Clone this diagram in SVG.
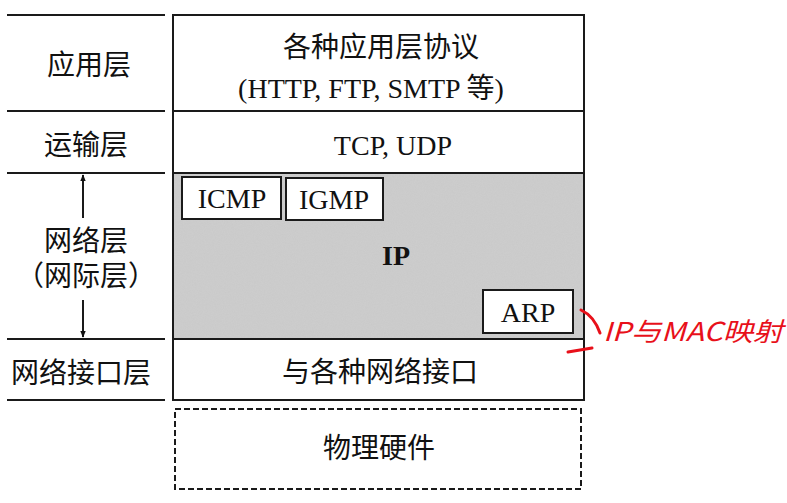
<svg xmlns="http://www.w3.org/2000/svg" width="787" height="503" viewBox="0 0 787 503">
<defs>
<style>
.ln{stroke:#1a1a1a;stroke-width:2;fill:none}
.bx{stroke:#1a1a1a;stroke-width:2;fill:#fff}
.t{font-family:"Liberation Serif","Noto Sans CJK SC",serif;font-size:28px;fill:#111;text-anchor:middle}
.red{stroke:#e8101a;stroke-width:3;fill:none;stroke-linecap:round}
</style>
<marker id="ah" viewBox="0 0 10 10" refX="9" refY="5" markerWidth="7" markerHeight="9" orient="auto-start-reverse" markerUnits="userSpaceOnUse">
<path d="M0,1 L10,5 L0,9 Z" fill="#111"/>
</marker>
<filter id="noise" x="0" y="0" width="100%" height="100%">
<feTurbulence type="fractalNoise" baseFrequency="0.9" numOctaves="2" seed="3" result="n"/>
<feColorMatrix in="n" type="matrix" values="0 0 0 0 0.7  0 0 0 0 0.7  0 0 0 0 0.7  0 0 0 0.5 0" result="c"/>
<feComposite in="c" in2="SourceGraphic" operator="in"/>
</filter>
</defs>
<rect width="787" height="503" fill="#fff"/>
<g id="left-labels">
<line class="ln" x1="7" y1="15" x2="165" y2="15"/>
<line class="ln" x1="7" y1="111" x2="165" y2="111"/>
<line class="ln" x1="7" y1="173" x2="165" y2="173"/>
<line class="ln" x1="7" y1="339" x2="165" y2="339"/>
<line class="ln" x1="7" y1="400" x2="165" y2="400"/>
<text class="t" x="89" y="75">应用层</text>
<text class="t" x="86" y="155">运输层</text>
<text class="t" x="86" y="251">网络层</text>
<text class="t" x="86" y="286">（网际层）</text>
<text class="t" x="81" y="383">网络接口层</text>
</g>
<g id="connectors">
<line class="ln" x1="83" y1="218" x2="83" y2="175" marker-end="url(#ah)"/>
<line class="ln" x1="83" y1="300" x2="83" y2="337" marker-end="url(#ah)"/>
</g>
<g id="app">
<rect class="bx" x="173" y="15" width="411" height="96"/>
<text class="t" x="381" y="57">各种应用层协议</text>
<text class="t" x="371" y="98">(HTTP, FTP, SMTP 等)</text>
</g>
<g id="transport">
<rect class="bx" x="173" y="111" width="411" height="62"/>
<text class="t" x="393" y="155">TCP, UDP</text>
</g>
<g id="network">
<rect x="173" y="173" width="411" height="166" fill="#c9c9c9" stroke="#1a1a1a" stroke-width="2"/>
<rect x="174" y="174" width="409" height="164" fill="#000" filter="url(#noise)" opacity="0.6"/>
<text class="t" x="396" y="265" font-weight="bold">IP</text>
</g>
<g id="icmp">
<rect class="bx" x="182" y="177" width="99" height="42"/>
<text class="t" x="232" y="208">ICMP</text>
</g>
<g id="igmp">
<rect class="bx" x="286" y="178" width="97" height="42"/>
<text class="t" x="334" y="209">IGMP</text>
</g>
<g id="arp">
<rect class="bx" x="483" y="290" width="90" height="43"/>
<text class="t" x="528" y="322">ARP</text>
</g>
<g id="link">
<rect class="bx" x="173" y="339" width="411" height="61"/>
<text class="t" x="380" y="382">与各种网络接口</text>
</g>
<g id="physical">
<rect x="175" y="409" width="406" height="80" fill="none" stroke="#1a1a1a" stroke-width="2" stroke-dasharray="6,3"/>
<text class="t" x="379" y="458">物理硬件</text>
</g>
<g id="annotation">
<path class="red" d="M581,310 Q594,316 600,333"/>
<path class="red" d="M568,352 L592,348"/>
<text x="603" y="341" font-family="'Noto Sans CJK SC',sans-serif" font-size="26" fill="#e8101a" font-style="italic" textLength="180" lengthAdjust="spacingAndGlyphs">IP与MAC映射</text>
</g>
</svg>
